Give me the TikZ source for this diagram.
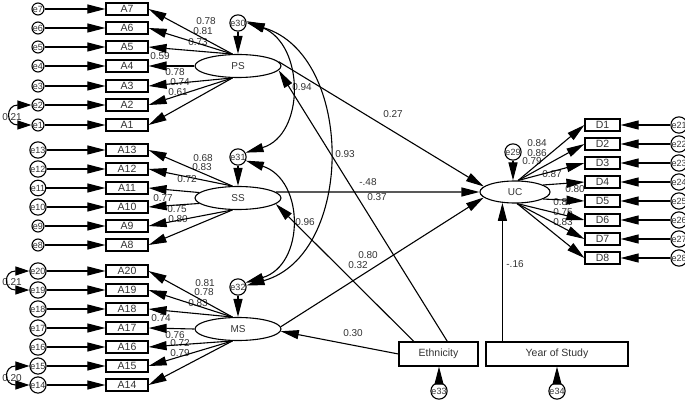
\documentclass[tikz,border=0pt]{standalone}
\usepackage{fontspec}
\setmainfont{Liberation Sans}
\usetikzlibrary{arrows.meta,shapes.geometric}
\begin{document}
\begin{tikzpicture}[x=1pt,y=-1pt,
  font=\fontsize{10}{11}\selectfont,
  obs/.style={draw, line width=1.2pt, minimum width=42pt, minimum height=12pt, inner sep=0pt, text=black!80, font=\fontsize{10.5}{11}\selectfont},
  dobs/.style={obs, minimum width=35pt},
  big/.style={draw, line width=1.2pt, minimum height=24pt, inner sep=0pt, text=black!80, font=\fontsize{10.5}{11}\selectfont},
  lat/.style={ellipse, draw, line width=1.1pt, minimum width=86pt, minimum height=23pt, inner sep=0pt, text=black!80},
  err/.style={circle, draw, line width=1.1pt, minimum size=12pt, inner sep=0pt, text=black!80, font=\fontsize{9}{9}\selectfont},
  lerr/.style={err, minimum size=14pt},
  arr/.style={line width=1.1pt, -{Triangle[length=18pt,width=9pt]}},
  dbl/.style={line width=1.1pt, {Triangle[length=18pt,width=9pt]}-{Triangle[length=18pt,width=9pt]}},
  sdbl/.style={line width=1.1pt, {Triangle[length=14pt,width=9pt]}-{Triangle[length=14pt,width=9pt]}},
  lbl/.style={inner sep=0pt, text=black!80}
]
\useasboundingbox[fill=white] (0,0) rectangle (685,406);

% labels (drawn first, lines overlap them as in the reference)
\foreach \t/\x/\y in {0.78/206/21, 0.81/203/31, 0.73/198/42, 0.59/160/56, 0.78/175/72, 0.74/180/82, 0.61/178/92,
  0.68/203/158, 0.83/202/167, 0.72/187/179, 0.77/163/198, 0.75/177/209, 0.80/178/219,
  0.81/205/283, 0.78/204/292, 0.83/198/303, 0.74/161/318, 0.76/175/335, 0.72/180/343, 0.79/180/353,
  0.84/537/143, 0.86/537/153, 0.79/532/161, 0.87/552/174, 0.80/575/189, 0.87/563/202, 0.75/563/212, 0.83/563/222,
  0.27/393/114, -.48/368/182, 0.37/377/197, 0.93/345/154, 0.94/302/87, 0.96/305/222,
  0.80/368/255, 0.32/358/265, 0.30/353/333, -.16/515/264,
  0.21/12/117, 0.21/12/282, 0.20/12/378}{
  \node[lbl] at (\x,\y) {\t};
}

% latent variables
\node[lat] (PS) at (238,66) {PS};
\node[lat] (SS) at (238,198) {SS};
\node[lat] (MS) at (238,329) {MS};
\node[lat, minimum width=70pt, minimum height=22pt] (UC) at (515,192) {UC};
\node[lerr] (e30) at (238,23) {e30};
\node[lerr] (e31) at (238,157) {e31};
\node[lerr] (e32) at (238,287) {e32};
\node[lerr] (e29) at (513,152) {e29};

% observed items with error terms
\foreach \n/\y in {7/9,6/28,5/47,4/66,3/86,2/105,1/125,
                   13/150,12/169,11/188,10/207,9/226,8/245,
                   20/271,19/290,18/309,17/328,16/347,15/366,14/385}{
  \node[obs] (A\n) at (127,\y) {A\n};
  \node[err] (e\n) at (38,\y) {e\n};
  \draw[arr] (e\n) -- (A\n);
}
\foreach \i in {1,...,8}{
  \pgfmathtruncatemacro{\en}{20+\i}
  \node[dobs] (D\i) at (602.5,{125+19*(\i-1)}) {D\i};
  \node[err, minimum size=13pt] (e\en) at (679,{125+19*(\i-1)}) {e\en};
  \draw[arr] (e\en) -- (D\i);
}

% exogenous boxes
\node[big, minimum width=79pt] (Eth) at (438.5,354) {Ethnicity};
\node[big, minimum width=142pt] (Year) at (557,354) {Year of Study};
\node[lerr] (e33) at (439,391) {e33};
\node[lerr] (e34) at (557,391) {e34};

% loadings
\foreach \n in {7,6,5}{\draw[arr] (PS.115) -- (A\n.east);}
\draw[arr] (PS.180) -- (A4.east);
\foreach \n in {3,2,1}{\draw[arr] (PS.245) -- (A\n.east);}
\foreach \n in {13,12}{\draw[arr] (SS.115) -- (A\n.east);}
\draw[arr] (SS.172) -- (A11.east);
\draw[arr] (SS.188) -- (A10.east);
\foreach \n in {9,8}{\draw[arr] (SS.245) -- (A\n.east);}
\foreach \n in {20,19,18}{\draw[arr] (MS.115) -- (A\n.east);}
\draw[arr] (MS.180) -- (A17.east);
\foreach \n in {16,15,14}{\draw[arr] (MS.245) -- (A\n.east);}
\foreach \i in {1,2,3}{\draw[arr] (UC.75) -- (D\i.west);}
\draw[arr] (UC.14) -- (D4.west);
\draw[arr] (UC.-14) -- (D5.west);
\foreach \i in {6,7,8}{\draw[arr] (UC.-80) -- (D\i.west);}

% disturbances
\draw[arr] (e30) -- (PS);
\draw[arr] (e31) -- (SS);
\draw[arr] (e32) -- (MS);
\draw[arr] (e29.south) -- (e29.south |- UC.north);
\draw[arr] (e33.north) -- (e33.north |- Eth.south);
\draw[arr] (e34) -- (Year);

% structural paths
\draw[arr] (PS.6) -- (UC.170);
\draw[arr] (SS.9) -- (UC.180);
\draw[arr] (MS.3) -- (UC.190);
\draw[arr] (Eth.55) -- (PS.-6);
\draw[arr] (Eth.153) -- (SS.-9);
\draw[arr] (Eth.180) -- (MS.-3);
\draw[arr] (Year.167) -- (Year.167 |- UC.223);

% covariances
\draw[dbl] (e30.12) .. controls (305,45) and (305,135) .. (e31.30);
\draw[dbl] (e30.2) .. controls (355,55) and (355,255) .. (e32.10);
\draw[dbl] (e31.-25) .. controls (305,180) and (305,265) .. (e32.30);
\draw[sdbl] (e2.west) .. controls +(-26,0) and +(-26,0) .. (e1.west);
\draw[sdbl] (e20.west) .. controls +(-26,0) and +(-26,0) .. (e19.west);
\draw[sdbl] (e15.west) .. controls +(-26,0) and +(-26,0) .. (e14.west);
\end{tikzpicture}
\end{document}
